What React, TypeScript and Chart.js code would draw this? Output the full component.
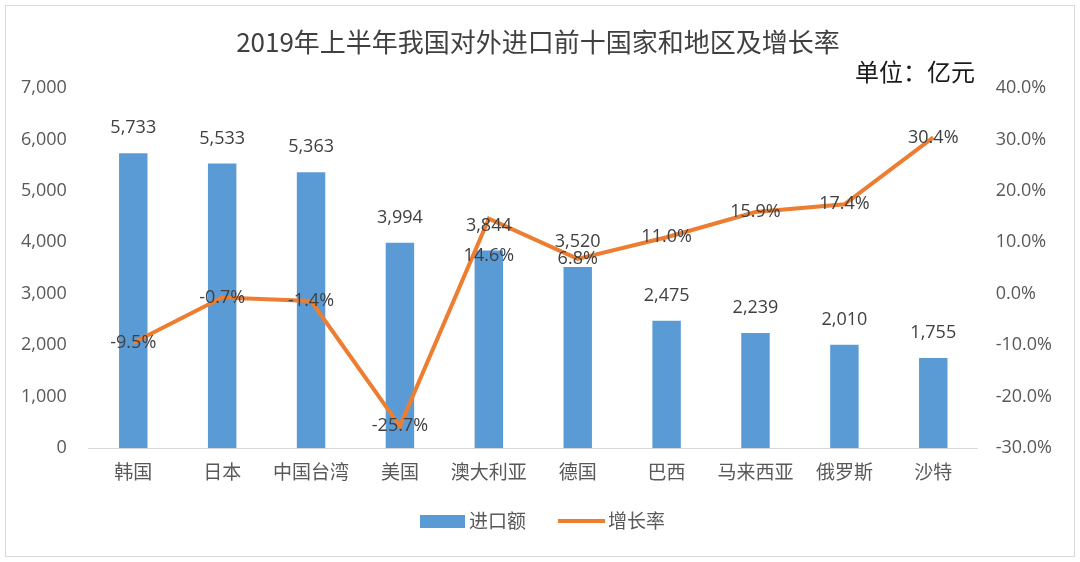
import React, { useEffect, useRef } from "react";
import { Chart, registerables } from "chart.js";

Chart.register(...registerables);

const FONT = '"Open Sans", "Noto Sans CJK SC", sans-serif';
const CJK = '"Noto Sans CJK SC", sans-serif';

const titleText = "2019年上半年我国对外进口前十国家和地区及增长率";
const unitText = "单位：亿元";
const categories = ["韩国", "日本", "中国台湾", "美国", "澳大利亚", "德国", "巴西", "马来西亚", "俄罗斯", "沙特"];
const importValues = [5733, 5533, 5363, 3994, 3844, 3520, 2475, 2239, 2010, 1755];
const growthRates = [-9.5, -0.7, -1.4, -25.7, 14.6, 6.8, 11.0, 15.9, 17.4, 30.4];
const seriesNames = ["进口额", "增长率"];

const BLUE = "#5B9BD5";
const ORANGE = "#ED7D31";

const overlay = {
  id: "overlay",
  afterDatasetsDraw(chart: any) {
    const ctx = chart.ctx;
    const bars = chart.getDatasetMeta(0).data;
    const pts = chart.getDatasetMeta(1).data;
    ctx.save();
    ctx.font = `18px ${FONT}`;
    ctx.fillStyle = "#404040";
    ctx.textAlign = "center";
    ctx.textBaseline = "middle";
    bars.forEach((b: any, i: number) => {
      ctx.fillText(importValues[i].toLocaleString("en-US"), b.x, b.y - 25);
    });
    pts.forEach((p: any, i: number) => {
      const dy = i === 4 ? 37 : 0;
      ctx.fillText(growthRates[i].toFixed(1) + "%", p.x, p.y + dy);
    });
    ctx.restore();
  },
  afterDraw(chart: any) {
    const ctx = chart.ctx;
    ctx.save();
    ctx.textBaseline = "middle";
    ctx.textAlign = "center";
    ctx.fillStyle = "#404040";
    ctx.font = `26px ${CJK}`;
    ctx.fillText(titleText, 538, 42);
    ctx.textAlign = "right";
    ctx.fillStyle = "#1a1a1a";
    ctx.font = `24px ${CJK}`;
    ctx.fillText(unitText, 975, 72);
    // legend
    ctx.fillStyle = BLUE;
    ctx.fillRect(420, 515, 45, 13);
    ctx.fillStyle = "#595959";
    ctx.textAlign = "left";
    ctx.font = `19px ${CJK}`;
    ctx.fillText(seriesNames[0], 469, 521);
    ctx.strokeStyle = ORANGE;
    ctx.lineWidth = 4;
    ctx.beginPath();
    ctx.moveTo(558, 521);
    ctx.lineTo(605, 521);
    ctx.stroke();
    ctx.fillText(seriesNames[1], 608, 521);
    ctx.restore();
  },
};

export default function App() {
  const ref = useRef<HTMLCanvasElement>(null);
  useEffect(() => {
    document.body.style.margin = "0";
    const chart = new Chart(ref.current!, {
      type: "bar",
      data: {
        labels: categories,
        datasets: [
          {
            type: "bar",
            label: seriesNames[0],
            data: importValues,
            backgroundColor: BLUE,
            barPercentage: 0.32,
            categoryPercentage: 1,
            yAxisID: "y",
            order: 1,
          },
          {
            type: "line",
            label: seriesNames[1],
            data: growthRates,
            borderColor: ORANGE,
            backgroundColor: ORANGE,
            borderWidth: 4,
            pointRadius: 0,
            tension: 0,
            yAxisID: "y1",
            order: 0,
          } as any,
        ],
      },
      options: {
        animation: false,
        responsive: false,
        maintainAspectRatio: false,
        layout: { padding: { left: 7, right: 18, top: 88, bottom: 75 } },
        plugins: { legend: { display: false }, tooltip: { enabled: false }, title: { display: false } },
        scales: {
          x: {
            grid: { display: false },
            border: { display: true, color: "#d9d9d9", width: 1 },
            ticks: { color: "#595959", font: { size: 19, family: CJK }, padding: 4, maxRotation: 0, autoSkip: false },
          },
          y: {
            position: "left",
            min: 0,
            max: 7000,
            grid: { display: false },
            border: { display: false },
            ticks: {
              stepSize: 1000,
              color: "#595959",
              font: { size: 18, family: FONT },
              padding: 14,
              callback: (v: any) => Number(v).toLocaleString("en-US"),
            },
          },
          y1: {
            position: "right",
            min: -30,
            max: 40,
            grid: { display: false },
            border: { display: false },
            ticks: {
              stepSize: 10,
              color: "#595959",
              font: { size: 18, family: FONT },
              padding: 10,
              callback: (v: any) => Number(v).toFixed(1) + "%",
            },
          },
        },
      },
      plugins: [overlay],
    });
    return () => chart.destroy();
  }, []);
  return (
    <div style={{ position: "fixed", left: 0, top: 0, width: 1080, height: 562, background: "#fff" }}>
      <div style={{ position: "absolute", left: 5, top: 5, width: 1068, height: 550, border: "1px solid #d9d9d9" }} />
      <canvas ref={ref} width={1080} height={562} style={{ position: "absolute", left: 0, top: 0 }} />
    </div>
  );
}
